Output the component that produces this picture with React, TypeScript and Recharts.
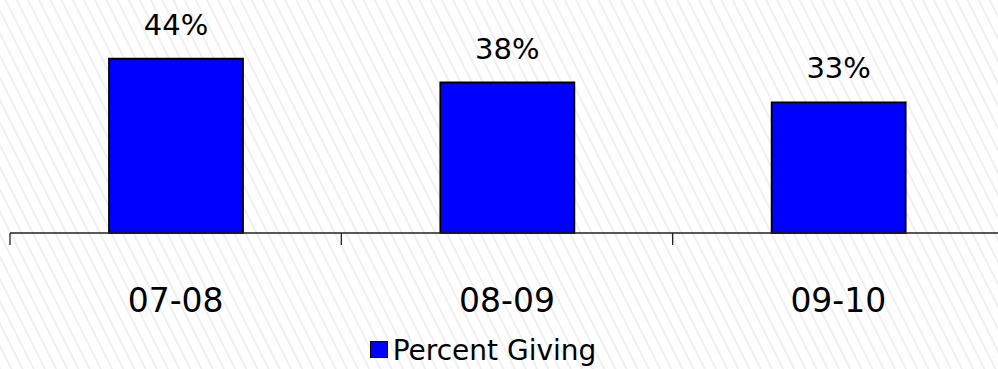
import { Bar, BarChart, LabelList, Legend, XAxis, YAxis } from "recharts"

const seasons = ["07-08", "08-09", "09-10"]
const percentGiving = [44, 38, 33]

const data = seasons.map((season, i) => ({ season, percentGiving: percentGiving[i] }))

const FONT = "'DejaVu Sans', Verdana, sans-serif"

// category label at the band centre, tick mark at the band's left edge
function SeasonTick({ x, y, payload, width, visibleTicksCount }: any) {
  const half = payload?.offset ?? width / (visibleTicksCount || 1) / 2
  const edge = x - half
  return (
    <g>
      <line x1={edge} x2={edge} y1={y} y2={y + 12} stroke="#222" strokeWidth={1.3} />
      <text x={x} y={y + 79} textAnchor="middle" fill="#000" fontSize={33} fontFamily={FONT}>
        {payload.value}
      </text>
    </g>
  )
}

function LegendContent({ payload }: any) {
  return (
    <div
      style={{
        display: "flex",
        justifyContent: "center",
        alignItems: "center",
        height: 34,
        fontFamily: FONT,
        fontSize: 28,
        lineHeight: "34px",
        color: "#000",
      }}
    >
      {(payload ?? []).map((entry: any) => (
        <div key={entry.value} style={{ display: "flex", alignItems: "center" }}>
          <span
            style={{
              display: "inline-block",
              width: 18,
              height: 17,
              boxSizing: "border-box",
              background: entry.color ?? "#0000ff",
              border: "1.5px solid #000",
              marginRight: 5,
              position: "relative",
              top: -2,
            }}
          />
          <span>{entry.value}</span>
        </div>
      ))}
    </div>
  )
}

export default function App() {
  return (
    <div style={{ position: "relative", width: 998, height: 369, overflow: "hidden" }}>
      <style>{`html, body { margin: 0; padding: 0; }`}</style>
      <svg width={998} height={369} style={{ position: "absolute", left: 0, top: 0 }}>
        <defs>
          <pattern id="hatch" patternUnits="userSpaceOnUse" width={10} height={10} patternTransform="rotate(-26.6)">
            <line x1={5} y1={0} x2={5} y2={10} stroke="#e0e0e0" strokeWidth={1} />
          </pattern>
        </defs>
        <rect width={998} height={369} fill="#fff" />
        <rect width={998} height={369} fill="url(#hatch)" />
      </svg>
      <div style={{ position: "absolute", left: 0, top: 0 }}>
        <BarChart width={1010} height={369} data={data} margin={{ top: 35, right: 6, bottom: 36, left: 10 }}>
          <XAxis
            dataKey="season"
            interval={0}
            axisLine={{ stroke: "#222", strokeWidth: 1.3 }}
            tickLine={false}
            tickSize={0}
            tickMargin={0}
            height={100}
            tick={<SeasonTick />}
          />
          <YAxis hide domain={[0, 50]} />
          <Legend
            verticalAlign="middle"
            align="center"
            content={<LegendContent />}
            wrapperStyle={{ top: 334, left: 0, width: 966, height: 34 }}
          />
          <Bar
            dataKey="percentGiving"
            name="Percent Giving"
            fill="#0000ff"
            stroke="#000"
            strokeWidth={1.8}
            barSize={134}
            isAnimationActive={false}
          >
            <LabelList
              dataKey="percentGiving"
              position="top"
              offset={24}
              formatter={(v: any) => `${v}%`}
              style={{ fill: "#000", fontSize: 29, fontFamily: FONT }}
            />
          </Bar>
        </BarChart>
      </div>
    </div>
  )
}
